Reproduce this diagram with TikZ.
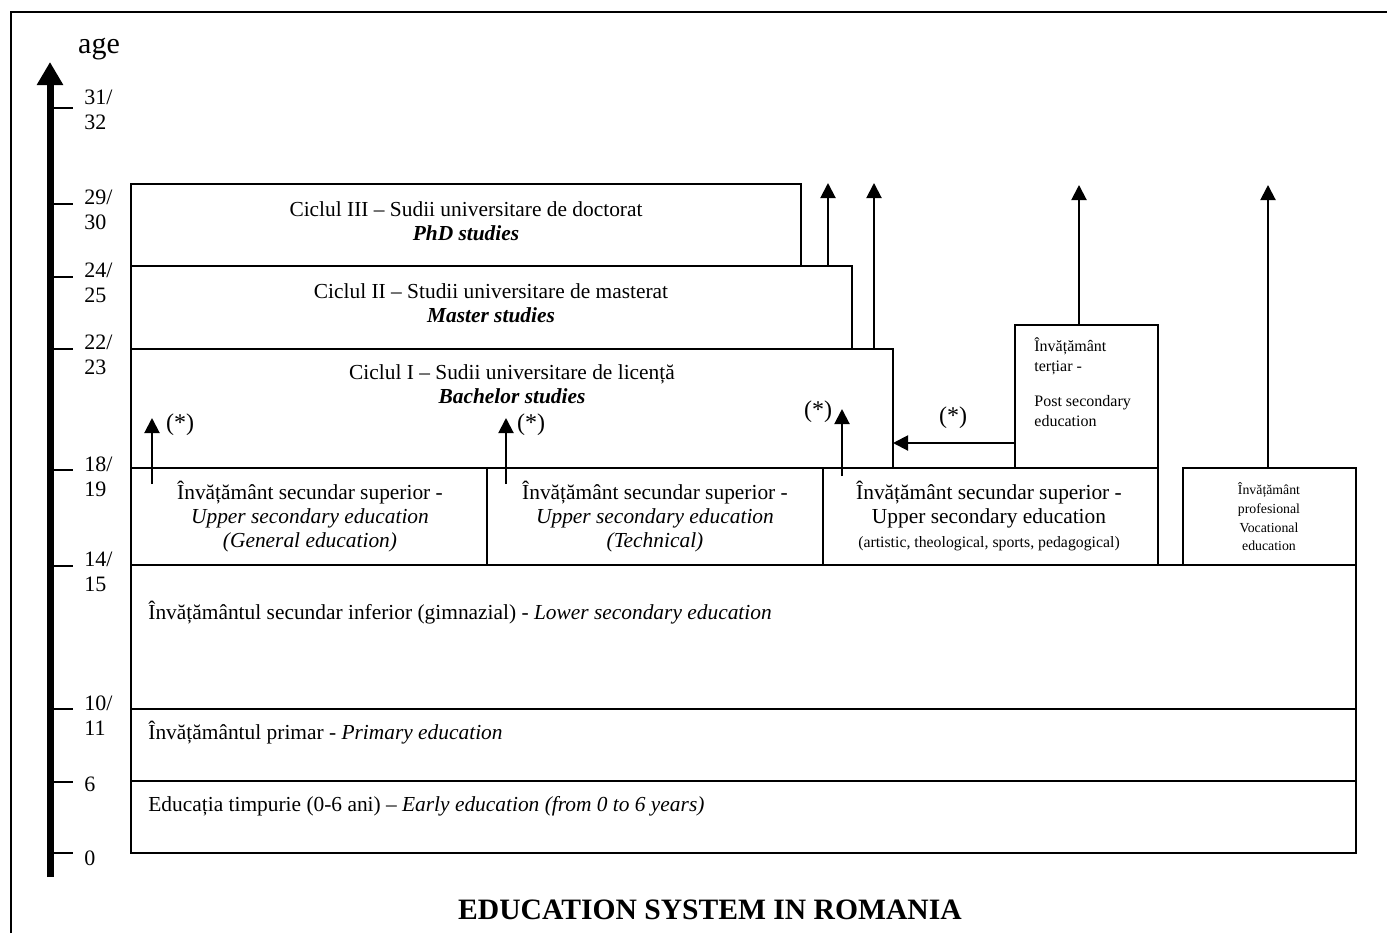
\documentclass[tikz,border=0pt]{standalone}
\usepackage{fontspec}
\setmainfont{Liberation Serif}
\usetikzlibrary{arrows.meta}

\tikzset{
  box/.style={draw, line width=1pt, inner sep=0pt, outer sep=0pt, anchor=north west},
  txt/.style={font=\fontsize{10.7}{12}\selectfont, inner sep=0pt, align=center},
  lefttxt/.style={font=\fontsize{10.7}{12}\selectfont, inner sep=0pt, anchor=west},
  up/.style={line width=1pt, -{Triangle[width=7.5pt,length=7.5pt]}},
  star/.style={font=\fontsize{12}{14}\selectfont, inner sep=0pt},
  agetick/.style={line width=1pt},
  agelab/.style={font=\fontsize{11}{12.5}\selectfont, inner sep=0pt, align=left},
}

\begin{document}
\begin{tikzpicture}[x=0.5pt,y=-0.5pt]
  \useasboundingbox (0,0) rectangle (1387,933);

  %frame
  \draw[line width=1pt] (11,933) -- (11,12) -- (1387,12);

  %age axis
  \coordinate (axbot) at (50,877);
  \coordinate (axtop) at (50,62);
  \draw[line width=3.5pt, -{Triangle[width=12.5pt,length=11.5pt]}] (axbot) -- (axtop);
  \node[font=\fontsize{15}{18}\selectfont, inner sep=0pt] (age) at (99,49) {age};
  \foreach \y/\lab [count=\i] in {204/{29/\\30}, 277/{24/\\25}, 349/{22/\\23},
      470/{18/\\19}, 566/{14/\\15}, 709/{10/\\11}} {
    \draw[agetick] (53,\y) -- (73,\y);
    \node[agelab, anchor=north west] (lab\i) at (84,\y-14) {\lab};
  }
  \draw[agetick] (53,108) -- (73,108);
  \node[agelab, anchor=north west] (lab31) at (84,90) {31/\\32};
  \draw[agetick] (53,782) -- (73,782);
  \node[agelab, anchor=west] (lab6) at (84,784) {6};
  \draw[agetick] (53,853) -- (73,853);
  \node[agelab, anchor=west] (lab0) at (84,858) {0};

  %university cycles
  \node[box, minimum width=335pt, minimum height=41pt] (phd) at (131,184) {};
  \node[txt] (phdtxt) at (466,221) {Ciclul III – Sudii universitare de doctorat\\\textbf{\textit{PhD studies}}};
  \node[box, minimum width=360.5pt, minimum height=41.5pt] (master) at (131,266) {};
  \node[txt] (mastertxt) at (491,303) {Ciclul II – Studii universitare de masterat\\\textbf{\textit{Master studies}}};
  \node[box, minimum width=381pt, minimum height=59.5pt] (bach) at (131,349) {};
  \node[txt] (bachtxt) at (512,384) {Ciclul I – Sudii universitare de licență\\\textbf{\textit{Bachelor studies}}};

  %post secondary
  \node[box, minimum width=71.5pt, minimum height=71.5pt] (tert) at (1015,325) {};
  \node[font=\fontsize{8}{10}\selectfont, inner sep=0pt, align=left, anchor=north west] (terttxt) at (1034,337)
    {Învățământ\\terțiar -\\[7.5pt]Post secondary\\education};

  %upper secondary
  \node[box, minimum width=178pt, minimum height=48.5pt] (upgen) at (131,468) {};
  \node[txt] (upgentxt) at (310,517) {Învățământ secundar superior -\\\textit{Upper secondary education}\\\textit{(General education)}};
  \node[box, minimum width=168pt, minimum height=48.5pt] (uptech) at (487,468) {};
  \node[txt] (uptechtxt) at (655,517) {Învățământ secundar superior -\\\textit{Upper secondary education}\\\textit{(Technical)}};
  \node[box, minimum width=167.5pt, minimum height=48.5pt] (upart) at (823,468) {};
  \node[txt] (uparttxt) at (989,516) {Învățământ secundar superior -\\Upper secondary education\\{\fontsize{7.9}{10}\selectfont(artistic, theological, sports, pedagogical)}};
  \node[box, minimum width=86.5pt, minimum height=48.5pt] (voc) at (1183,468) {};
  \node[font=\fontsize{6.9}{9.3}\selectfont, inner sep=0pt, align=center] (voctxt) at (1269,517)
    {Învățământ\\profesional\\Vocational\\education};

  %compulsory levels
  \node[box, minimum width=612.5pt, minimum height=72pt] (lowsec) at (131,565) {};
  \node[lefttxt] (lowsectxt) at (148,613) {Învățământul secundar inferior (gimnazial) - \textit{Lower secondary education}};
  \node[box, minimum width=612.5pt, minimum height=36pt] (prim) at (131,709) {};
  \node[lefttxt] (primtxt) at (148,733) {Învățământul primar - \textit{Primary education}};
  \node[box, minimum width=612.5pt, minimum height=36pt] (early) at (131,781) {};
  \node[lefttxt] (earlytxt) at (148,806) {Educația timpurie (0-6 ani) – \textit{Early education (from 0 to 6 years)}};

  %exits upwards
  \coordinate (phdup) at (828,183);
  \coordinate (bachup) at (874,183);
  \coordinate (tertup) at (1079,185);
  \coordinate (vocup) at (1268,185);
  \draw[up] (master.north -| phdup) -- (phdup);
  \draw[up] (bach.north -| bachup) -- (bachup);
  \draw[up] (tert.north -| tertup) -- (tertup);
  \draw[up] (voc.north -| vocup) -- (vocup);

  %access to bachelor (*)
  \coordinate (hh) at (950,443);
  \draw[up] (tert.west |- hh) -- (bach.east |- hh);
  \node[star] (st0) at (953,418) {(*)};
  \coordinate (s1) at (152,484);
  \coordinate (t1) at (152,418);
  \draw[up] (s1) -- (t1);
  \node[star] (st1) at (180,425) {(*)};
  \coordinate (s2) at (506,484);
  \coordinate (t2) at (506,418);
  \draw[up] (s2) -- (t2);
  \node[star] (st2) at (531,425) {(*)};
  \coordinate (s3) at (842,476);
  \coordinate (t3) at (842,409);
  \draw[up] (s3) -- (t3);
  \node[star] (st3) at (818,412) {(*)};

  %title
  \node[font=\fontsize{14.8}{17}\selectfont\bfseries, inner sep=0pt] (title) at (710,910) {EDUCATION SYSTEM IN ROMANIA};
\end{tikzpicture}
\end{document}
